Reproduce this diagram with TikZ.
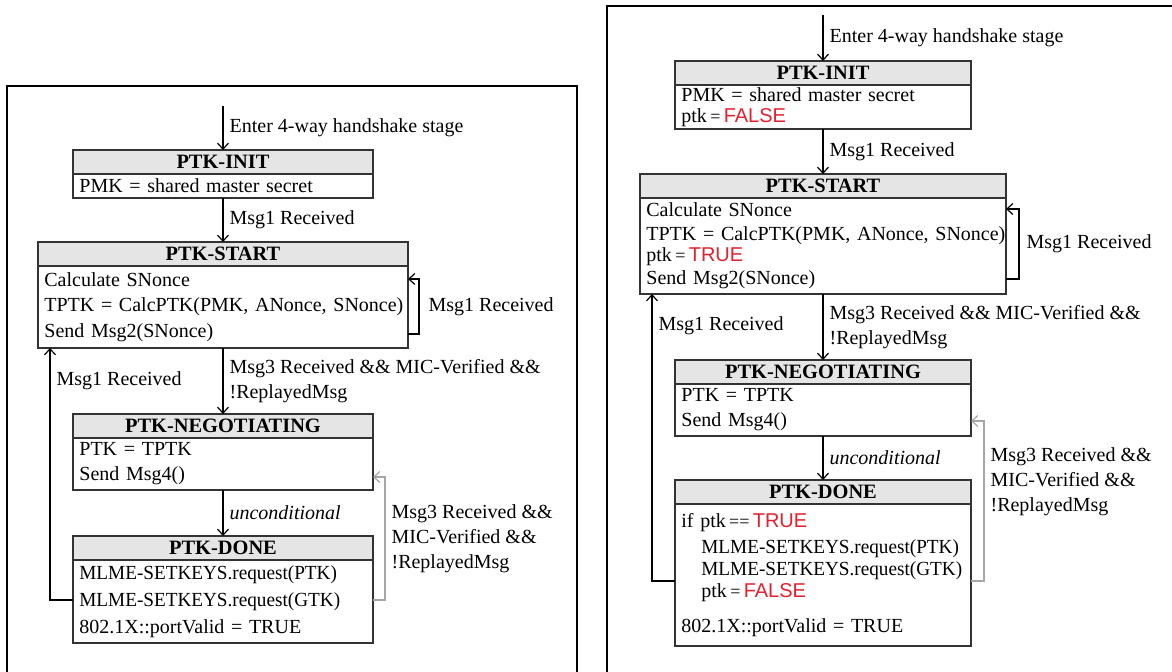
\documentclass[tikz,border=0pt]{standalone}
\usepackage{fontspec}
\setmainfont{Liberation Serif}
\newfontfamily\kwfont{Liberation Sans}
\usetikzlibrary{arrows.meta,positioning}
\definecolor{kwred}{HTML}{E5202E}
\newcommand{\kwtrue}{\textcolor{kwred}{\kwfont TRUE}}
\newcommand{\kwfalse}{\textcolor{kwred}{\kwfont FALSE}}
\newcommand{\ptkis}[1]{ptk\,{\small #1}\,}
\newcommand{\mlmereq}[1]{\scalebox{0.96}[1]{MLME-SETKEYS.request(#1)}}

\begin{document}
\begin{tikzpicture}[x=0.5pt, y=-0.5pt,
  font=\fontsize{10}{12.5}\selectfont,
  stitle/.style={draw=black!80, line width=0.8pt, fill=gray!20, font=\fontsize{10.2}{12}\selectfont\bfseries, minimum height=12pt, inner sep=0pt, outer sep=0pt},
  sbody/.style={draw=black!80, line width=0.8pt, fill=white, align=left, inner xsep=3.2pt, inner ysep=0pt, outer sep=0pt, text width=#1},
  frame/.style={draw, line width=1.2pt},
  lbl/.style={align=left, inner sep=3pt},
  >={Straight Barb[length=3pt, width=5.5pt]}, line width=0.6pt]
\useasboundingbox (0,0) rectangle (1172,672);

% left machine
\draw[frame] (7,672) |- (577,86) -- (577,672);
\coordinate (lin) at (223,106);
\node[stitle, minimum width=150pt, below=22pt of lin] (li) {PTK-INIT};
\node[sbody=143.6pt, minimum height=12pt, below=0pt of li] (lib) {PMK = shared master secret};
\node[stitle, minimum width=185pt, below=22pt of lib] (ls) {PTK-START};
\node[sbody=178.6pt, minimum height=41pt, below=0pt of ls] (lsb) {Calculate SNonce\\\mbox{TPTK = CalcPTK(PMK, ANonce, SNonce)}\\[0.5pt]Send Msg2(SNonce)};
\node[stitle, minimum width=150pt, below=33pt of lsb] (ln) {PTK-NEGOTIATING};
\node[sbody=143.6pt, minimum height=26pt, below=0pt of ln] (lnb) {PTK = TPTK\\Send Msg4()};
\node[stitle, minimum width=150pt, below=23pt of lnb] (ld) {PTK-DONE};
\node[sbody=143.6pt, minimum height=41.5pt, below=0pt of ld] (ldb) {\mlmereq{PTK}\\[1pt]\mlmereq{GTK}\\[1pt]802.1X::portValid = TRUE};

\draw[->] (lin) -- node[lbl, right]{Enter 4-way handshake stage} (li);
\draw[->] (lib) -- node[lbl, right]{Msg1 Received} (ls);
\draw[->] (lsb) -- node[lbl, right]{Msg3 Received \&\& MIC-Verified \&\&\\!ReplayedMsg} (ln);
\draw[->] (lnb) -- node[lbl, right]{\textit{unconditional}} (ld);
\draw[->] ([yshift=7pt]lsb.south east) -- ++(5.5pt,0) |- node[lbl, pos=0.25, right, xshift=1.5pt]{Msg1 Received} ([yshift=-6.5pt]lsb.north east);
\draw[->] ([yshift=-20pt]ldb.north west) -| node[lbl, pos=0.935, right]{Msg1 Received} ([xshift=6pt]lsb.south west);
\draw[->, gray!70] ([yshift=-20pt]ldb.north east) -- ++(6pt,0) |- node[lbl, pos=0.25, right, text=black]{Msg3 Received \&\&\\MIC-Verified \&\&\\!ReplayedMsg} ([yshift=6.5pt]lnb.south east);

% right machine
\draw[frame] (607,672) |- (1172,6);
\coordinate (rin) at (823,15);
\node[stitle, minimum width=148pt, below=23pt of rin] (ri) {PTK-INIT};
\node[sbody=141.6pt, minimum height=22pt, below=0pt of ri] (rib) {PMK = shared master secret\\[-2pt]\ptkis{=}\kwfalse};
\node[stitle, minimum width=183pt, below=22.5pt of rib] (rs) {PTK-START};
\node[sbody=176.6pt, minimum height=48pt, below=0pt of rs] (rsb) {Calculate SNonce\\[-0.5pt]\mbox{TPTK = CalcPTK(PMK, ANonce, SNonce)}\\[-2pt]\ptkis{=}\kwtrue\\[-1pt]Send Msg2(SNonce)};
\node[stitle, minimum width=148pt, below=33pt of rsb] (rn) {PTK-NEGOTIATING};
\node[sbody=141.6pt, minimum height=26pt, below=0pt of rn] (rnb) {PTK = TPTK\\Send Msg4()};
\node[stitle, minimum width=148pt, below=22pt of rnb] (rd) {PTK-DONE};
\node[sbody=141.6pt, minimum height=71pt, below=0pt of rd] (rdb) {if \ptkis{==}\kwtrue\\[0.5pt]
  \hspace*{10pt}\mlmereq{PTK}\\[-1.5pt]
  \hspace*{10pt}\mlmereq{GTK}\\[-1.5pt]
  \hspace*{10pt}\ptkis{=}\kwfalse\\[5pt]
  802.1X::portValid = TRUE};

\draw[->] (rin) -- node[lbl, right]{Enter 4-way handshake stage} (ri);
\draw[->] (rib) -- node[lbl, right]{Msg1 Received} (rs);
\draw[->] (rsb) -- node[lbl, right]{Msg3 Received \&\& MIC-Verified \&\&\\!ReplayedMsg} (rn);
\draw[->] (rnb) -- node[lbl, right]{\textit{unconditional}} (rd);
\draw[->] ([yshift=7.5pt]rsb.south east) -- ++(6.5pt,0) |- node[lbl, pos=0.25, right, xshift=0.5pt]{Msg1 Received} ([yshift=-5.5pt]rsb.north east);
\draw[->] ([yshift=-38.5pt]rdb.north west) -| node[lbl, pos=0.945, right]{Msg1 Received} ([xshift=6pt]rsb.south west);
\draw[->, gray!70] ([yshift=-38.5pt]rdb.north east) -- ++(6.5pt,0) |- node[lbl, pos=0.31, right, text=black]{Msg3 Received \&\&\\MIC-Verified \&\&\\!ReplayedMsg} ([yshift=7.5pt]rnb.south east);
\end{tikzpicture}
\end{document}
